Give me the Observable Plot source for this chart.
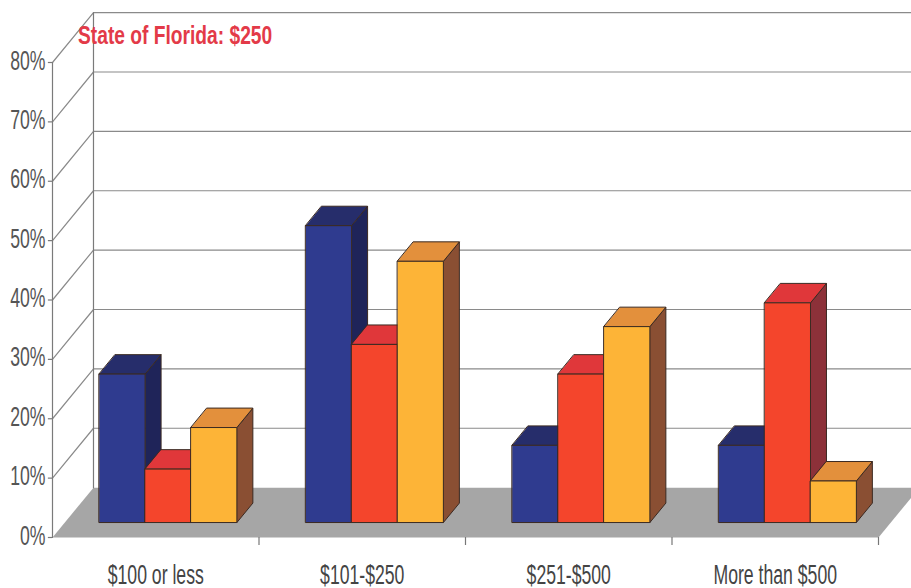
<!DOCTYPE html>
<html><head><meta charset="utf-8">
<script src="https://cdn.jsdelivr.net/npm/d3@7"></script>
<script src="https://cdn.jsdelivr.net/npm/@observablehq/plot@0.6"></script>
<style>
body{margin:0;background:#fff;}
#chart{position:relative;width:911px;height:588px;overflow:hidden;}
#title{position:absolute;left:78px;top:23px;font-family:"Liberation Sans","Arial",sans-serif;font-weight:bold;font-size:24px;line-height:24px;color:#e33a48;white-space:nowrap;transform-origin:0 0;transform:scale(0.8,1.05);}
</style></head><body><div id="chart"></div>
<script>
const categories = ["$100 or less", "$101-$250", "$251-$500", "More than $500"];
const blueValues = [25, 50, 13, 13];
const redValues = [9, 30, 25, 37];
const yellowValues = [16, 44, 33, 7];
const yTicks = [0, 10, 20, 30, 40, 50, 60, 70, 80];
const titleText = "State of Florida: $250";

const faceColors = [
  {front: "#2f3b8f", top: "#262d6b", side: "#1f2459"},
  {front: "#f4452c", top: "#e0373a", side: "#8c3139"},
  {front: "#fdb437", top: "#e3903c", side: "#8a4f33"}
];
// oblique projection: depth z in [0,1] shifts x by DX (category units) and y by DY (percent units)
const DX = 0.1985, DY = 8.4, Z0 = 0.30, Z1 = 0.69;
const proj = (x, y, z) => ({px: x + z * DX, py: y + z * DY});
const nCat = categories.length;
const yMax = yTicks[yTicks.length - 1];
const tickLen = 0.02; // y-axis tick length in category units

const seriesValues = [blueValues, redValues, yellowValues];
const faces = [];
categories.forEach((c, i) => {
  seriesValues.forEach((vals, s) => {
    const v = vals[i];
    const x0 = i + 1 / 6 + s * 2 / 9, x1 = x0 + 2 / 9;
    const push = (face, pts) => pts.forEach(p => faces.push({id: `${i}-${s}-${face}`, color: faceColors[s][face], ...proj(...p)}));
    push("side", [[x1, 0, Z0], [x1, 0, Z1], [x1, v, Z1], [x1, v, Z0]]);
    push("top", [[x0, v, Z0], [x1, v, Z0], [x1, v, Z1], [x0, v, Z1]]);
    push("front", [[x0, 0, Z0], [x1, 0, Z0], [x1, v, Z0], [x0, v, Z0]]);
  });
});

const floor = [[0, 0, 0], [nCat, 0, 0], [nCat, 0, 1], [0, 0, 1]].map(p => proj(...p));
const grid = [];
yTicks.filter(v => v > 0).forEach(v => {
  [[0, v, 0], [0, v, 1], [nCat, v, 1]].forEach(p => grid.push({id: v, ...proj(...p)}));
});
const verticals = [];
[[0, 0, 0], [0, yMax, 0]].forEach(p => verticals.push({id: "front", ...proj(...p)}));
[[0, 0, 1], [0, yMax, 1]].forEach(p => verticals.push({id: "back", ...proj(...p)}));

const font = '"Liberation Sans","Arial",sans-serif';
const plot = Plot.plot({
  width: 911, height: 588,
  marginLeft: 52, marginRight: 33, marginTop: 62, marginBottom: 51,
  x: {domain: [0, nCat], axis: null},
  y: {domain: [0, yMax], axis: null},
  color: {type: "identity"},
  style: {fontFamily: font, background: "transparent", overflow: "visible"},
  marks: [
    Plot.line(floor, {x: "px", y: "py", fill: "#a6a6a6", stroke: "none", curve: "linear-closed"}),
    Plot.line(grid, {x: "px", y: "py", z: "id", stroke: "#8a8a8a", strokeWidth: 1.2}),
    Plot.line(verticals, {x: "px", y: "py", z: "id", stroke: "#7a7a7a", strokeWidth: 1.2}),
    Plot.ruleY(yTicks, {y: d => d, x1: -tickLen, x2: 0, stroke: "#7a7a7a", strokeWidth: 1.2}),
    Plot.text(yTicks, {x: 0, y: d => d, dx: -7, dy: 7, lineAnchor: "bottom", textAnchor: "end", text: d => d + "%", fontSize: 21, fill: "#555"}),
    Plot.axisX({ticks: [1, 2, 3, 4], tickSize: 8, tickFormat: () => "", label: null, color: "#777", strokeWidth: 1.2}),
    Plot.text(categories, {x: (d, i) => i + 0.5, y: 0, dy: 46, lineAnchor: "bottom", text: d => d, fontSize: 21, fill: "#444"}),
    Plot.line(faces, {x: "px", y: "py", z: "id", fill: "color", stroke: "#3b2a22", strokeWidth: 1, strokeLinejoin: "round", curve: "linear-closed"})
  ]
});

// tall condensed look of the gray labels
d3.select(plot).selectAll('g[aria-label="text"] text').each(function() {
  const t = this;
  const x = +(t.getAttribute("x") || 0), y = +(t.getAttribute("y") || 0);
  const tr = t.getAttribute("transform") || "";
  t.setAttribute("transform", `${tr} translate(${x},${y}) scale(0.84,1.3) translate(${-x},${-y})`);
});

const chart = document.getElementById("chart");
chart.appendChild(plot);
const title = document.createElement("div");
title.id = "title";
title.textContent = titleText;
chart.appendChild(title);
</script></body></html>
